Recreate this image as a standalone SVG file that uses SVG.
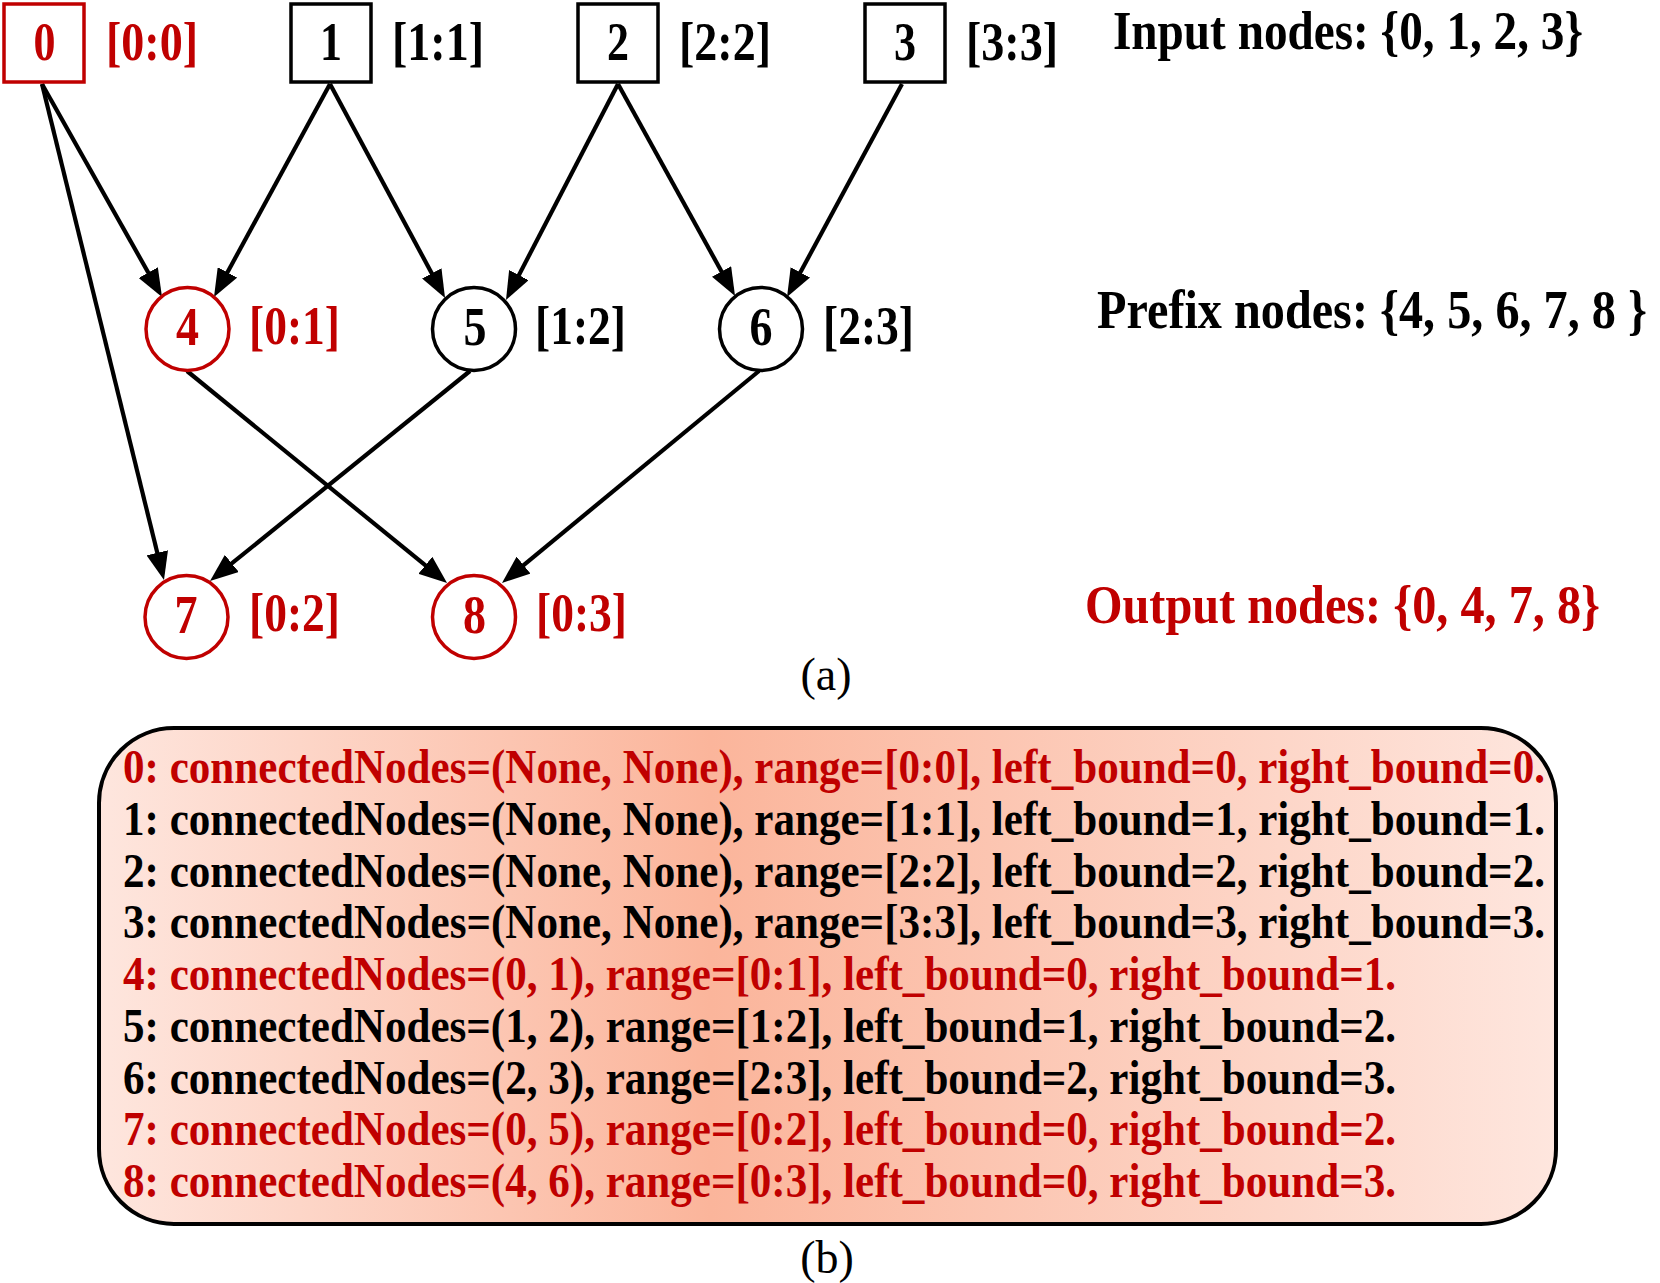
<svg xmlns="http://www.w3.org/2000/svg" width="1660" height="1283" viewBox="0 0 1660 1283">
<defs>
<style>
.t{font-family:"Liberation Serif","Times New Roman",serif;font-weight:bold;font-size:54px}
.bt{font-family:"Liberation Serif","Times New Roman",serif;font-weight:bold;font-size:49px}
.cap{font-family:"Liberation Serif","Times New Roman",serif;font-size:46px;fill:#000}
.r{fill:#C00000}
.k{fill:#000}
.sqk{fill:#fff;stroke:#000;stroke-width:3.5}
.sqr{fill:#fff;stroke:#C00000;stroke-width:3.5}
.ck{fill:#fff;stroke:#000;stroke-width:3.5}
.cr{fill:#fff;stroke:#C00000;stroke-width:3.5}
.e{fill:none;stroke:#000;stroke-width:4.2}
</style>
<marker id="ah" viewBox="0 0 28 22" markerWidth="28" markerHeight="22" refX="18" refY="11" orient="auto" markerUnits="userSpaceOnUse">
<path d="M0,0 L28,11 L0,22 z" fill="#000"/>
</marker>
<linearGradient id="bg" x1="0" y1="0" x2="1" y2="0">
<stop offset="0" stop-color="#FEE6DE"/>
<stop offset="0.42" stop-color="#FBB59B"/>
<stop offset="1" stop-color="#FEE6DE"/>
</linearGradient>
</defs>
<rect width="1660" height="1283" fill="#fff"/>

<g id="connectors">
<path class="e" marker-end="url(#ah)" d="M42,84 L157.1,288.3"/>
<path class="e" marker-end="url(#ah)" d="M42,84 L161.6,570.3"/>
<path class="e" marker-end="url(#ah)" d="M330,84 L218.8,288.2"/>
<path class="e" marker-end="url(#ah)" d="M330,84 L440.3,289.2"/>
<path class="e" marker-end="url(#ah)" d="M618,84 L510.6,291.1"/>
<path class="e" marker-end="url(#ah)" d="M618,84 L730.2,287.2"/>
<path class="e" marker-end="url(#ah)" d="M902,84 L791.8,288.2"/>
<path class="e" marker-end="url(#ah)" d="M470,371 L217.8,574.7"/>
<path class="e" marker-end="url(#ah)" d="M187,371 L439.3,576.7"/>
<path class="e" marker-end="url(#ah)" d="M759,371 L509.7,576.6"/>
</g>

<g id="node-0">
<rect class="sqr" x="4" y="4" width="80" height="78"/>
<text class="t r" x="44.5" y="60" text-anchor="middle" textLength="22" lengthAdjust="spacingAndGlyphs">0</text>
<text class="t r" x="106" y="60" textLength="92" lengthAdjust="spacingAndGlyphs">[0:0]</text>
</g>
<g id="node-1">
<rect class="sqk" x="291" y="4" width="80" height="78"/>
<text class="t k" x="331" y="60" text-anchor="middle" textLength="22" lengthAdjust="spacingAndGlyphs">1</text>
<text class="t k" x="392" y="60" textLength="92" lengthAdjust="spacingAndGlyphs">[1:1]</text>
</g>
<g id="node-2">
<rect class="sqk" x="578" y="4" width="80" height="78"/>
<text class="t k" x="618" y="60" text-anchor="middle" textLength="22" lengthAdjust="spacingAndGlyphs">2</text>
<text class="t k" x="679" y="60" textLength="92" lengthAdjust="spacingAndGlyphs">[2:2]</text>
</g>
<g id="node-3">
<rect class="sqk" x="865" y="4" width="80" height="78"/>
<text class="t k" x="905" y="60" text-anchor="middle" textLength="22" lengthAdjust="spacingAndGlyphs">3</text>
<text class="t k" x="966" y="60" textLength="92" lengthAdjust="spacingAndGlyphs">[3:3]</text>
</g>
<g id="node-4">
<circle class="cr" cx="187.5" cy="329" r="41.5"/>
<text class="t r" x="187.5" y="345" text-anchor="middle" textLength="23" lengthAdjust="spacingAndGlyphs">4</text>
<text class="t r" x="249" y="344" textLength="91" lengthAdjust="spacingAndGlyphs">[0:1]</text>
</g>
<g id="node-5">
<circle class="ck" cx="474" cy="329" r="41.5"/>
<text class="t k" x="475" y="345" text-anchor="middle" textLength="23" lengthAdjust="spacingAndGlyphs">5</text>
<text class="t k" x="535" y="344" textLength="91" lengthAdjust="spacingAndGlyphs">[1:2]</text>
</g>
<g id="node-6">
<circle class="ck" cx="761" cy="329" r="41.5"/>
<text class="t k" x="761" y="345" text-anchor="middle" textLength="23" lengthAdjust="spacingAndGlyphs">6</text>
<text class="t k" x="823" y="344" textLength="91" lengthAdjust="spacingAndGlyphs">[2:3]</text>
</g>
<g id="node-7">
<circle class="cr" cx="186.5" cy="617" r="41.5"/>
<text class="t r" x="186" y="633" text-anchor="middle" textLength="23" lengthAdjust="spacingAndGlyphs">7</text>
<text class="t r" x="249" y="631" textLength="91" lengthAdjust="spacingAndGlyphs">[0:2]</text>
</g>
<g id="node-8">
<circle class="cr" cx="474" cy="617" r="41.5"/>
<text class="t r" x="474.5" y="633" text-anchor="middle" textLength="23" lengthAdjust="spacingAndGlyphs">8</text>
<text class="t r" x="536" y="631" textLength="91" lengthAdjust="spacingAndGlyphs">[0:3]</text>
</g>

<g id="legend">
<text class="t k" x="1113" y="49" textLength="470" lengthAdjust="spacingAndGlyphs">Input nodes: {0, 1, 2, 3}</text>
<text class="t k" x="1097" y="328" textLength="550" lengthAdjust="spacingAndGlyphs">Prefix nodes: {4, 5, 6, 7, 8 }</text>
<text class="t r" x="1085" y="623" textLength="515" lengthAdjust="spacingAndGlyphs">Output nodes: {0, 4, 7, 8}</text>
</g>

<text class="cap" x="826" y="690" text-anchor="middle">(a)</text>

<g id="info-box">
<rect x="99" y="728" width="1457" height="496" rx="75" ry="75" fill="url(#bg)" stroke="#000" stroke-width="4"/>
<text class="bt r" x="123" y="783" textLength="1422" lengthAdjust="spacingAndGlyphs">0: connectedNodes=(None, None), range=[0:0], left_bound=0, right_bound=0.</text>
<text class="bt k" x="123" y="834.75" textLength="1422" lengthAdjust="spacingAndGlyphs">1: connectedNodes=(None, None), range=[1:1], left_bound=1, right_bound=1.</text>
<text class="bt k" x="123" y="886.5" textLength="1422" lengthAdjust="spacingAndGlyphs">2: connectedNodes=(None, None), range=[2:2], left_bound=2, right_bound=2.</text>
<text class="bt k" x="123" y="938.25" textLength="1422" lengthAdjust="spacingAndGlyphs">3: connectedNodes=(None, None), range=[3:3], left_bound=3, right_bound=3.</text>
<text class="bt r" x="123" y="990" textLength="1273" lengthAdjust="spacingAndGlyphs">4: connectedNodes=(0, 1), range=[0:1], left_bound=0, right_bound=1.</text>
<text class="bt k" x="123" y="1041.75" textLength="1273" lengthAdjust="spacingAndGlyphs">5: connectedNodes=(1, 2), range=[1:2], left_bound=1, right_bound=2.</text>
<text class="bt k" x="123" y="1093.5" textLength="1273" lengthAdjust="spacingAndGlyphs">6: connectedNodes=(2, 3), range=[2:3], left_bound=2, right_bound=3.</text>
<text class="bt r" x="123" y="1145.25" textLength="1273" lengthAdjust="spacingAndGlyphs">7: connectedNodes=(0, 5), range=[0:2], left_bound=0, right_bound=2.</text>
<text class="bt r" x="123" y="1197" textLength="1273" lengthAdjust="spacingAndGlyphs">8: connectedNodes=(4, 6), range=[0:3], left_bound=0, right_bound=3.</text>
</g>

<text class="cap" x="827" y="1273" text-anchor="middle">(b)</text>
</svg>
